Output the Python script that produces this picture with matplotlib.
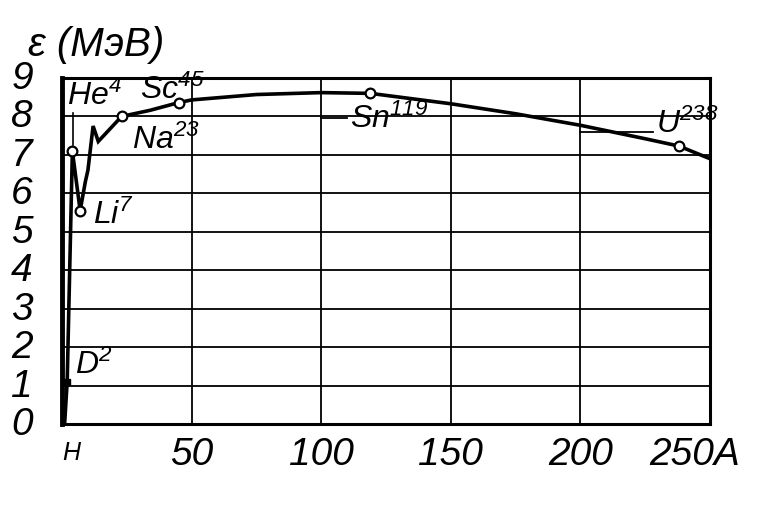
import matplotlib
matplotlib.use("Agg")
import matplotlib.pyplot as plt
from matplotlib.transforms import offset_copy

# ==== data ====
mass_numbers = [1, 2, 4, 7, 9, 10, 12, 14, 23, 34, 45, 50, 75, 100, 119, 150, 175, 200, 225, 238, 250]
binding_energy = [0.0, 1.1, 7.1, 5.55, 6.3, 6.6, 7.75, 7.35, 8.0, 8.16, 8.36, 8.43, 8.57, 8.62, 8.6,
                  8.33, 8.07, 7.77, 7.42, 7.23, 6.9]

marked_A = [4, 7, 23, 45, 119, 238]
marked_eps = [7.1, 5.55, 8.0, 8.36, 8.6, 7.23]

y_ticks = list(range(0, 10))
x_ticks = [0, 50, 100, 150, 200, 250]
x_tick_labels = ["H", "50", "100", "150", "200", "250A"]

plt.rcParams["font.family"] = ["Liberation Sans", "DejaVu Sans"]
plt.rcParams["font.style"] = "italic"
plt.rcParams["mathtext.fontset"] = "custom"
plt.rcParams["mathtext.it"] = "Liberation Sans:italic"
plt.rcParams["mathtext.rm"] = "Liberation Sans:italic"

fig = plt.figure(figsize=(7.84, 5.10), dpi=100)
ax = fig.add_axes([62 / 784, 85 / 510, 648 / 784, 346 / 510])
ax.set_xlim(0, 250)
ax.set_ylim(0, 9)

# grid
for y in y_ticks[1:-1]:
    ax.axhline(y, color="black", lw=1.3, zorder=1)
for x in x_ticks[1:-1]:
    ax.axvline(x, color="black", lw=1.3, zorder=1)
for s in ax.spines.values():
    s.set_linewidth(2.2)
ax.spines["left"].set_linewidth(3.5)

# curve
ax.plot(mass_numbers, binding_energy, color="black", lw=2.6, zorder=3, solid_joinstyle="miter")
ax.plot(marked_A, marked_eps, "o", ms=7, mfc="white", mec="black", mew=1.6, zorder=4)
ax.plot([2], [1.1], "s", ms=5, color="black", zorder=4)

# ticks as plain text, like the scan
ax.set_xticks([])
ax.set_yticks([])
big = dict(fontsize=28, color="black")
for y in y_ticks:
    ax.text(-0.045, y, str(y), transform=ax.get_yaxis_transform(), ha="right", va="center", **big)
for x, lab in zip(x_ticks[1:-1], x_tick_labels[1:-1]):
    ax.text(x, -0.035, lab, transform=ax.get_xaxis_transform(), ha="center", va="top", **big)
ax.text(250, -0.035, x_tick_labels[-1], ha="right", va="top",
        transform=offset_copy(ax.get_xaxis_transform(), fig=fig, x=30, units="dots"), **big)
ax.text(0, -0.045, x_tick_labels[0], transform=ax.get_xaxis_transform(), ha="left", va="top",
        fontsize=18, color="black")

fig.text(28 / 784, 1 - 45 / 510, "ε (МэВ)", ha="left", va="center", fontsize=29)

# element labels
lab = dict(fontsize=23, color="black")
ax.text(2, 8.15, "He$^{4}$", ha="left", va="bottom", **lab)
ax.plot([4.2, 4.2], [7.25, 8.1], color="black", lw=1.2)
ax.text(30, 8.3, "Sc$^{45}$", ha="left", va="bottom", **lab)
ax.text(27, 7.0, "Na$^{23}$", ha="left", va="bottom", **lab)
ax.text(12, 5.05, "Li$^{7}$", ha="left", va="bottom", **lab)
ax.text(5, 1.15, "D$^{2}$", ha="left", va="bottom", **lab)
ax.plot([100, 110], [7.97, 7.97], color="black", lw=1.3)
ax.text(111, 7.55, "Sn$^{119}$", ha="left", va="bottom", **lab)
ax.plot([200, 228], [7.6, 7.6], color="black", lw=1.3)
ax.text(229, 7.42, "U$^{238}$", ha="left", va="bottom", **lab)

fig.savefig("out.png", dpi=100)
